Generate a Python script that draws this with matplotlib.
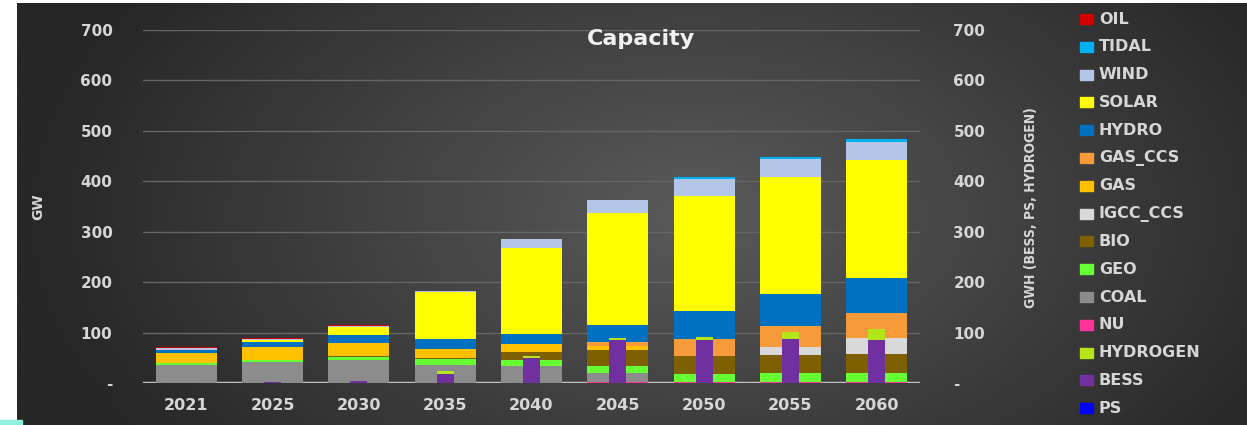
import numpy as np
import matplotlib
matplotlib.use('Agg')
import matplotlib.pyplot as plt
from matplotlib.patches import Rectangle

# ---- data ----
years = ['2021', '2025', '2030', '2035', '2040', '2045', '2050', '2055', '2060']

# GW, primary axis, stacked bottom -> top
NU = [0, 0, 0, 0, 0, 1, 1, 1, 1]
COAL = [36, 41, 46, 35, 33, 19, 0, 0, 0]
GEO = [3, 4, 5, 12, 12, 13, 17, 19, 19]
BIO = [0, 0, 3, 3, 17, 32, 35, 35, 38]
IGCC_CCS = [0, 0, 0, 0, 0, 0, 0, 16, 31]
GAS = [20, 27, 26, 18, 16, 8, 0, 0, 0]
GAS_CCS = [0, 0, 0, 0, 0, 8, 35, 42, 49]
HYDRO = [7, 9, 15, 19, 20, 35, 55, 63, 70]
SOLAR = [0, 5, 17, 93, 170, 221, 228, 233, 235]
WIND = [4, 2, 2, 3, 17, 25, 33, 35, 35]
TIDAL = [0, 0, 0, 0, 0, 0, 5, 5, 5]
OIL = [2, 1.5, 1, 0, 0, 0, 0, 0, 0]

# GWh, secondary axis
PS = [0, 0, 0, 0, 0, 0, 0, 0, 0]
BESS = [0, 2, 4, 18, 50, 86, 86, 88, 86]
HYDROGEN = [0, 0, 0, 5, 3, 3, 5, 13, 21]

colors = {
    'OIL': '#d40000', 'TIDAL': '#00b0f0', 'WIND': '#b4c6e7', 'SOLAR': '#ffff00',
    'HYDRO': '#0070c0', 'GAS_CCS': '#f79a3a', 'GAS': '#ffc000', 'IGCC_CCS': '#d9d9d9',
    'BIO': '#7f6000', 'GEO': '#66ff33', 'COAL': '#8c8c8c', 'NU': '#ff3399',
    'HYDROGEN': '#b2e619', 'BESS': '#7030a0', 'PS': '#0000ff',
}

primary = [('NU', NU), ('COAL', COAL), ('GEO', GEO), ('BIO', BIO), ('IGCC_CCS', IGCC_CCS),
           ('GAS', GAS), ('GAS_CCS', GAS_CCS), ('HYDRO', HYDRO), ('SOLAR', SOLAR),
           ('WIND', WIND), ('TIDAL', TIDAL), ('OIL', OIL)]
secondary = [('PS', PS), ('BESS', BESS), ('HYDROGEN', HYDROGEN)]
legend_order = ['OIL', 'TIDAL', 'WIND', 'SOLAR', 'HYDRO', 'GAS_CCS', 'GAS', 'IGCC_CCS',
                'BIO', 'GEO', 'COAL', 'NU', 'HYDROGEN', 'BESS', 'PS']

W, H = 1247, 425
txt = '#d6d6d6'

fig = plt.figure(figsize=(W / 100, H / 100), dpi=100)
fig.patch.set_facecolor('white')

# dark gradient background
bg = fig.add_axes([17 / W, 0, 1 - 17 / W, 422 / H])
bg.set_axis_off()
gx, gy = np.meshgrid(np.linspace(0, 1, 600), np.linspace(0, 1, 220))
d = np.sqrt(((gx - 0.55) / 0.55) ** 2 + ((gy - 0.5) / 0.95) ** 2)
d = np.clip(d, 0, 1)
shade = 0x5a + (0x26 - 0x5a) * d
img = np.dstack([shade, shade, shade]) / 255.0
bg.imshow(img, aspect='auto', extent=[0, 1, 0, 1], origin='lower')
fig.patches.append(Rectangle((0, 0), 22 / W, 5 / H, transform=fig.transFigure,
                             color='#8ff0e0', zorder=5))

ax = fig.add_axes([143 / W, 42 / H, 777 / W, 353 / H])
ax.set_facecolor('none')
x = np.arange(len(years))

bottom = np.zeros(len(years))
for name, vals in primary:
    ax.bar(x, vals, 0.71, bottom=bottom, color=colors[name], zorder=3)
    bottom += np.array(vals, dtype=float)

ticks = list(range(0, 701, 100))
ticklabels = ['-' if t == 0 else str(t) for t in ticks]

ax.set_xlim(-0.5, len(years) - 0.5)
ax.set_ylim(0, 700)
ax.set_yticks(ticks)
ax.set_yticklabels(ticklabels)
ax.set_xticks(x)
ax.set_xticklabels(years)
ax.yaxis.grid(True, color='#666666', lw=1)
ax.set_axisbelow(True)
for s in ax.spines.values():
    s.set_visible(False)
ax.axhline(0, color='#c0c0c0', lw=2.5, zorder=2)
ax.tick_params(axis='y', length=0, pad=22, labelsize=11, labelcolor=txt)
ax.tick_params(axis='x', length=0, pad=11, labelsize=11.5, labelcolor=txt)
for lab in ax.get_xticklabels() + ax.get_yticklabels():
    lab.set_fontweight('bold')

ax2 = ax.twinx()
ax2.set_ylim(0, 700)
bottom2 = np.zeros(len(years))
for name, vals in secondary:
    ax2.bar(x, vals, 0.2, bottom=bottom2, color=colors[name], zorder=3)
    bottom2 += np.array(vals, dtype=float)
ax2.set_yticks(ticks)
ax2.set_yticklabels(ticklabels)
for s in ax2.spines.values():
    s.set_visible(False)
ax2.tick_params(axis='y', length=0, pad=24, labelsize=11, labelcolor=txt)
for lab in ax2.get_yticklabels():
    lab.set_fontweight('bold')

fig.text(641 / W, 1 - 39 / H, 'Capacity', ha='center', va='center', color='#f0f0f0',
         fontsize=16, fontweight='bold')
fig.text(38 / W, 1 - 207 / H, 'GW', rotation=90, ha='center', va='center', color=txt,
         fontsize=10, fontweight='bold')
fig.text(1031 / W, 1 - 208 / H, 'GWH (BESS, PS, HYDROGEN)', rotation=90, ha='center',
         va='center', color=txt, fontsize=10, fontweight='bold', fontstretch='condensed')

# legend on the right
for i, name in enumerate(legend_order):
    yc = 1 - (19 + i * 27.8) / H
    fig.patches.append(Rectangle((1080 / W, yc - 5 / H), 13 / W, 10 / H,
                                 transform=fig.transFigure, color=colors[name], zorder=4))
    fig.text(1099 / W, yc, name, ha='left', va='center', color=txt, fontsize=11.5,
             fontweight='bold')

fig.savefig('out.png', dpi=100)
